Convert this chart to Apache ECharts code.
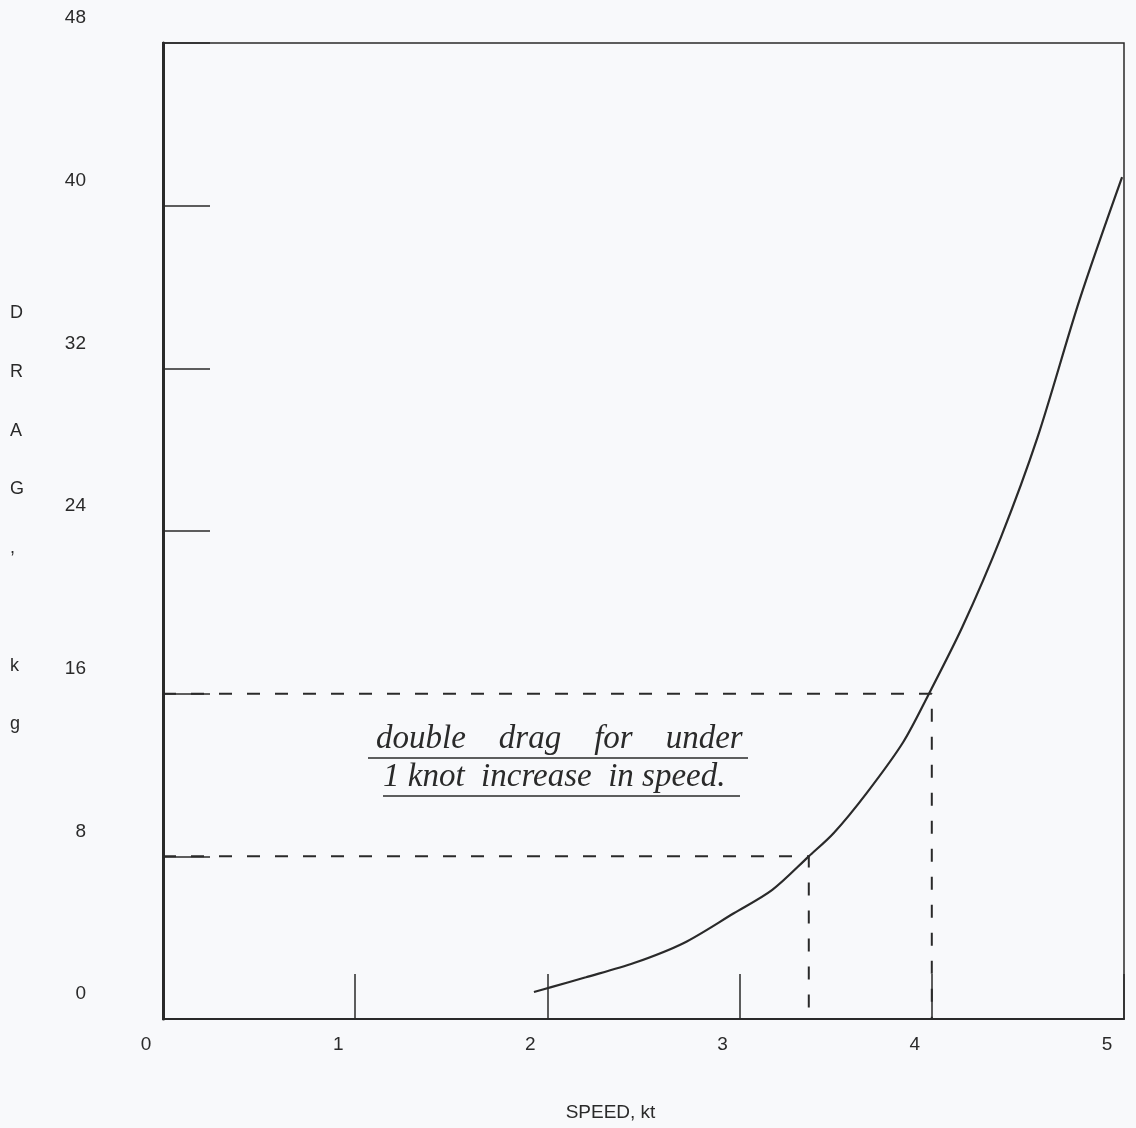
<!DOCTYPE html>
<html>
<head>
<meta charset="utf-8">
<script src="https://cdn.jsdelivr.net/npm/echarts@6/dist/echarts.min.js"></script>
<style>
html,body{margin:0;padding:0;background:#f8f9fb;}
#chart{width:1136px;height:1128px;}
</style>
</head>
<body>
<div id="chart"></div>
<script>
// Data
var speedKt = [1.93, 2.02, 2.2, 2.45, 2.71, 2.97, 3.17, 3.36, 3.49, 3.66, 3.85, 3.98, 4.16, 4.36, 4.55, 4.77, 4.99];
var dragKg  = [1.33, 1.57, 2.05, 2.75, 3.74, 5.2, 6.35, 8.0, 9.15, 11.1, 13.6, 15.9, 19.3, 23.7, 28.6, 35.4, 41.4];
var refSpeeds = [3.36, 4.0];
var refDrags = [8, 16];
var xTickLabels = ['0', '1', '2', '3', '4', '5'];
var yTickLabels = ['0', '8', '16', '24', '32', '40', '48'];
var yAxisTitle = ['D', 'R', 'A', 'G', ',', '', 'k', 'g'];
var xAxisTitle = 'SPEED, kt';
var noteLines = ['double    drag    for    under', '1 knot  increase  in speed.'];

var ink = '#2a2a2a';
var curve = speedKt.map(function (s, i) { return [s, dragKg[i]]; });
var refSeries = refSpeeds.map(function (s, i) {
  return {
    type: 'line',
    data: [[0, refDrags[i]], [s, refDrags[i]], [s, 0]],
    showSymbol: false,
    silent: true,
    lineStyle: { color: ink, width: 2, type: [13, 15] },
    z: 1
  };
});

var chart = echarts.init(document.getElementById('chart'), null, { renderer: 'canvas' });
chart.setOption({
  backgroundColor: '#f8f9fb',
  animation: false,
  grid: {
    left: 163, right: 12, top: 43, bottom: 109,
    outerBoundsMode: 'none', containLabel: false,
    show: true, borderColor: ink, borderWidth: 1.5, backgroundColor: 'transparent'
  },
  xAxis: {
    type: 'value', min: 0, max: 5, interval: 1,
    name: xAxisTitle, nameLocation: 'middle', nameGap: 84,
    nameTextStyle: { fontFamily: 'Liberation Sans', fontSize: 19, color: ink, padding: [0, 66, 0, 0] },
    axisLine: { show: true, onZero: false, lineStyle: { color: ink, width: 2 } },
    axisTick: { show: true, inside: true, length: 45, lineStyle: { color: ink, width: 1.5 } },
    axisLabel: {
      margin: 16, fontFamily: 'Liberation Sans', fontSize: 19, color: ink,
      padding: [0, 34, 0, 0],
      formatter: function (v) { return xTickLabels[Math.round(v)]; }
    },
    splitLine: { show: false }
  },
  yAxis: [{
    type: 'value', min: 0, max: 48, interval: 8,
    axisLine: { show: true, onZero: false, lineStyle: { color: ink, width: 2 } },
    axisTick: { show: true, inside: true, length: 47, lineStyle: { color: ink, width: 1.5 } },
    axisLabel: {
      margin: 77, fontFamily: 'Liberation Sans', fontSize: 19, color: ink,
      verticalAlign: 'bottom', lineHeight: 50,
      formatter: function (v) { return yTickLabels[Math.round(v / 8)]; }
    },
    splitLine: { show: false }
  }, {
    type: 'value', min: 0, max: 48, interval: 8, position: 'right',
    axisLine: { show: true, lineStyle: { color: ink, width: 3 } },
    axisTick: { show: false }, axisLabel: { show: false }, splitLine: { show: false }
  }],
  series: refSeries.concat([{
    type: 'line',
    data: curve,
    smooth: 0.3,
    showSymbol: false,
    silent: true,
    lineStyle: { color: ink, width: 2.2 },
    z: 3
  }]),
  graphic: [
    {
      type: 'text', left: 10, top: 284,
      style: {
        text: yAxisTitle.join('\n'), fontFamily: 'Liberation Sans', fontSize: 18,
        lineHeight: 58.7, fill: ink
      }
    },
    {
      type: 'text', x: 376, y: 756,
      style: {
        text: noteLines[0], fontFamily: 'Liberation Serif', fontStyle: 'italic', fontSize: 33,
        fill: ink, verticalAlign: 'bottom'
      }
    },
    {
      type: 'text', x: 383, y: 794,
      style: {
        text: noteLines[1], fontFamily: 'Liberation Serif', fontStyle: 'italic', fontSize: 33,
        fill: ink, verticalAlign: 'bottom'
      }
    },
    { type: 'line', shape: { x1: 368, y1: 758, x2: 748, y2: 758 }, style: { stroke: ink, lineWidth: 1.6 } },
    { type: 'line', shape: { x1: 383, y1: 796, x2: 740, y2: 796 }, style: { stroke: ink, lineWidth: 1.6 } }
  ]
});
</script>
</body>
</html>
